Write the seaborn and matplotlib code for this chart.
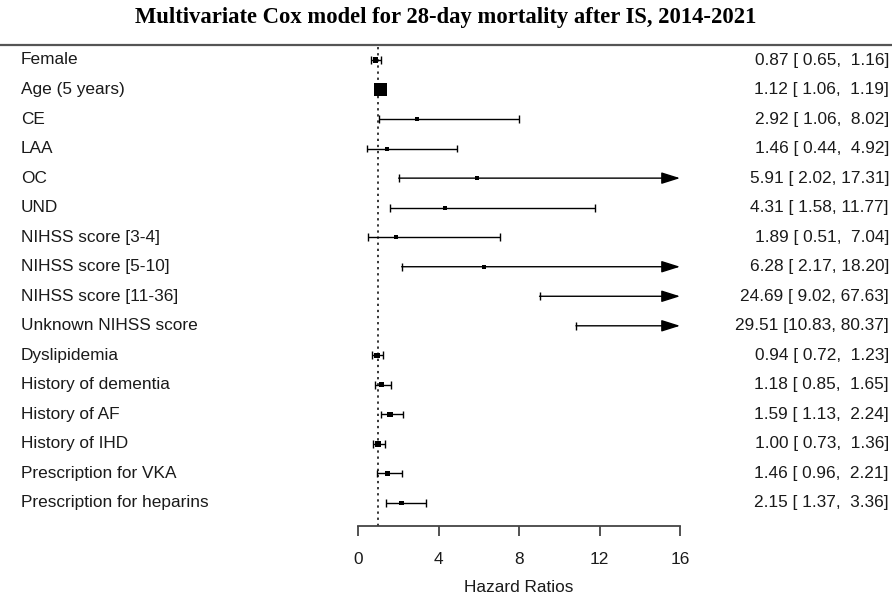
import numpy as np
import pandas as pd
import matplotlib
matplotlib.use("Agg")
import matplotlib.pyplot as plt
import matplotlib.transforms as mtransforms
from matplotlib.lines import Line2D
import seaborn as sns

labels = ["Female", "Age (5 years)", "CE", "LAA", "OC", "UND",
          "NIHSS score [3-4]", "NIHSS score [5-10]", "NIHSS score [11-36]",
          "Unknown NIHSS score", "Dyslipidemia", "History of dementia",
          "History of AF", "History of IHD", "Prescription for VKA",
          "Prescription for heparins"]
hr = [0.87, 1.12, 2.92, 1.46, 5.91, 4.31, 1.89, 6.28, 24.69, 29.51,
      0.94, 1.18, 1.59, 1.00, 1.46, 2.15]
lower = [0.65, 1.06, 1.06, 0.44, 2.02, 1.58, 0.51, 2.17, 9.02, 10.83,
         0.72, 0.85, 1.13, 0.73, 0.96, 1.37]
upper = [1.16, 1.19, 8.02, 4.92, 17.31, 11.77, 7.04, 18.20, 67.63, 80.37,
         1.23, 1.65, 2.24, 1.36, 2.21, 3.36]
xticks = [0, 4, 8, 12, 16]
title = "Multivariate Cox model for 28-day mortality after IS, 2014-2021"
xlabel = "Hazard Ratios"

df = pd.DataFrame({"label": labels, "hr": hr, "lb": lower, "ub": upper})
df["row"] = np.arange(len(df))
# point size as in metafor: weight ~ 1/width of log CI, rescaled to [0.5, 1.5]
w = 1.0 / (np.log(df["ub"]) - np.log(df["lb"]))
df["psize"] = 0.5 + (w - w.min()) / (w.max() - w.min())

sns.set_theme(style="white")
plt.rcParams["font.family"] = ["Liberation Sans", "DejaVu Sans"]

FS = 12.4
TXT = "#1a1a1a"
W, H = 892, 596
fig = plt.figure(figsize=(W / 100, H / 100), dpi=100)
x0, x1 = 358, 680
ytop, ybot = 45, 526
ax = fig.add_axes([x0 / W, 1 - ybot / H, (x1 - x0) / W, (ybot - ytop) / H])
xmax = 16
ax.set_xlim(0, xmax)
row_px = (503 - 60) / 15
ax.set_ylim(15 + (ybot - 503) / row_px, -(60 - ytop) / row_px)

# reference line
ax.axvline(1, color="black", ls=(0, (1.5, 2.5)), lw=1.1, zorder=1)

cap = 0.13
for _, r in df.iterrows():
    y = r["row"]
    lb, ub = r["lb"], r["ub"]
    if ub > xmax:
        ax.annotate("", xy=(xmax, y), xytext=(lb, y),
                    arrowprops=dict(arrowstyle="-|>,head_length=0.95,head_width=0.3",
                                    color="black", lw=1.0, shrinkA=0, shrinkB=0),
                    annotation_clip=False)
    else:
        ax.hlines(y, lb, ub, color="black", lw=1.0)
        ax.vlines(ub, y - cap, y + cap, color="black", lw=1.0)
    ax.vlines(lb, y - cap, y + cap, color="black", lw=1.0)

pts = df[df["hr"] <= xmax].copy()
pts["s"] = (pts["psize"] * 8.2 * 0.72) ** 2
sns.scatterplot(data=pts, x="hr", y="row", marker="s", size="s",
                sizes=(pts["s"].min(), pts["s"].max()), color="black",
                edgecolor="black", linewidth=0, legend=False, ax=ax, zorder=3)

# axes styling
for sp in ["top", "right", "left"]:
    ax.spines[sp].set_visible(False)
ax.spines["bottom"].set_color("#444444")
ax.spines["bottom"].set_linewidth(1.3)
ax.set_yticks([])
ax.set_xticks(xticks)
ax.set_xticklabels([str(t) for t in xticks])
ax.tick_params(axis="x", direction="out", length=7, width=1.3, color="#444444",
               bottom=True, pad=12, labelsize=FS, labelcolor=TXT)
ax.set_ylabel("")

# left and right texts
trans = mtransforms.blended_transform_factory(fig.transFigure, ax.transData)
for _, r in df.iterrows():
    ax.text(21 / W, r["row"], r["label"], transform=trans, ha="left",
            va="center", fontsize=FS, color=TXT)
    txt = f"{r['hr']:.2f} [{r['lb']:5.2f}, {r['ub']:5.2f}]"
    ax.text(889 / W, r["row"], txt, transform=trans, ha="right",
            va="center", fontsize=FS, color=TXT)

# top rule
fig.add_artist(Line2D([0, 1], [1 - ytop / H, 1 - ytop / H],
                      transform=fig.transFigure, color="#555555", lw=1.6))

fig.text(0.5, 1 - 18 / H, title, ha="center", va="center", color="black",
         fontsize=16.3, fontweight="bold", family=["Liberation Serif", "DejaVu Serif"])

ax.set_xlabel(xlabel, fontsize=FS, color=TXT, labelpad=9)
fig.savefig("out.png", dpi=100, facecolor="white")
